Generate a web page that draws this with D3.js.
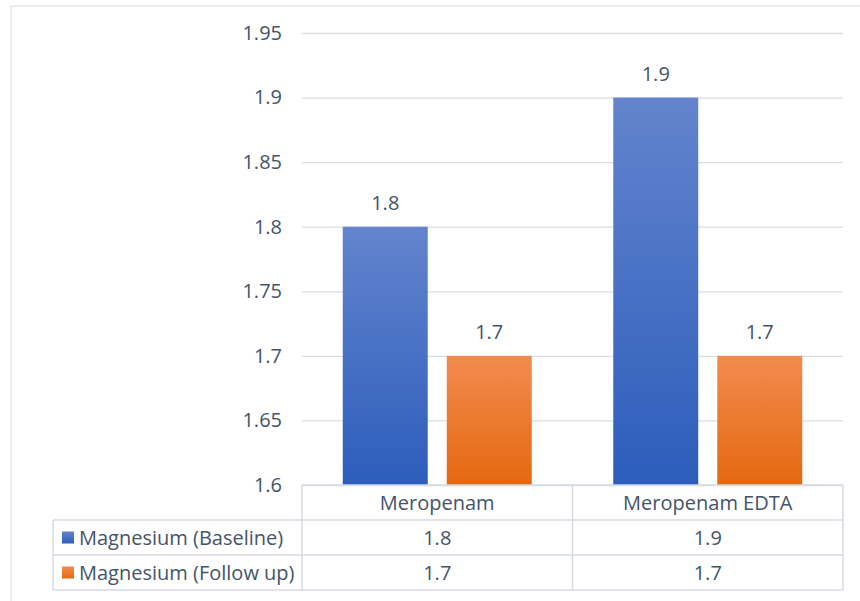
<!DOCTYPE html>
<html>
<head>
<meta charset="utf-8">
<script src="https://cdn.jsdelivr.net/npm/d3@7"></script>
<style>
  html, body { margin: 0; padding: 0; background: #fff; }
  svg { display: block; }
  text { font-family: "Open Sans", "Noto Sans", sans-serif; fill: #44546A; }
</style>
</head>
<body>
<svg id="chart" width="860" height="601"></svg>
<script>
// Data
const categories = ["Meropenam", "Meropenam EDTA"];
const seriesNames = ["Magnesium (Baseline)", "Magnesium (Follow up)"];
const baseline = [1.8, 1.9];
const followUp = [1.7, 1.7];
const yTicks = [1.6, 1.65, 1.7, 1.75, 1.8, 1.85, 1.9, 1.95];

const seriesValues = [baseline, followUp];
const gradients = [
  { id: "gradBlue", top: "#6384cd", bottom: "#2c5dbb" },
  { id: "gradOrange", top: "#f28b50", bottom: "#e5680f" }
];

const svg = d3.select("#chart");
const W = 860, H = 601;
const FS = "20px";

// Layout
const plot = { left: 302, right: 843, top: 33, bottom: 485 };
const tableLeft = 53;
const rowH = 35;
const gridColor = "#d9dde4";

// Chart frame
svg.append("rect")
  .attr("x", 11).attr("y", 6)
  .attr("width", W + 10).attr("height", H + 10)
  .attr("fill", "#fff")
  .attr("stroke", "#dde1e8").attr("stroke-width", 1.2);

// Gradients
const defs = svg.append("defs");
gradients.forEach(g => {
  const lg = defs.append("linearGradient")
    .attr("id", g.id).attr("x1", 0).attr("y1", 0).attr("x2", 0).attr("y2", 1);
  lg.append("stop").attr("offset", "0%").attr("stop-color", g.top);
  lg.append("stop").attr("offset", "100%").attr("stop-color", g.bottom);
});

// Scales
const y = d3.scaleLinear().domain([1.6, 1.95]).range([plot.bottom, plot.top]);
const x0 = d3.scaleBand().domain(categories).range([plot.left, plot.right]).paddingInner(0).paddingOuter(0);
const x1 = d3.scaleBand().domain(d3.range(seriesNames.length))
  .range([0, x0.bandwidth()]).paddingInner(0.183).paddingOuter(0.392);

// Gridlines and tick labels
const yAxis = d3.axisLeft(y).tickValues(yTicks).tickSize(-(plot.right - plot.left)).tickFormat(d3.format(""));
const gAxis = svg.append("g")
  .attr("transform", `translate(${plot.left},0)`)
  .call(yAxis);
gAxis.select(".domain").remove();
gAxis.selectAll(".tick line").attr("stroke", gridColor).attr("stroke-width", 1.3);
gAxis.selectAll(".tick text")
  .attr("x", -20)
  .style("font-size", FS)
  .style("fill", "#44546A");

// Bars
const groups = svg.append("g").selectAll("g")
  .data(categories)
  .join("g")
  .attr("transform", d => `translate(${x0(d)},0)`);

groups.selectAll("rect")
  .data((c, ci) => seriesValues.map((vals, si) => ({ si, v: vals[ci] })))
  .join("rect")
  .attr("x", d => x1(d.si))
  .attr("width", x1.bandwidth())
  .attr("y", d => y(d.v))
  .attr("height", d => y(1.6) - y(d.v))
  .attr("fill", d => `url(#${gradients[d.si].id})`);

// Value labels
groups.selectAll("text.val")
  .data((c, ci) => seriesValues.map((vals, si) => ({ si, v: vals[ci] })))
  .join("text")
  .attr("class", "val")
  .attr("x", d => x1(d.si) + x1.bandwidth() / 2)
  .attr("y", d => y(d.v) - 17)
  .attr("text-anchor", "middle")
  .style("font-size", FS)
  .text(d => d3.format("")(d.v));

// Data table
const table = svg.append("g");
const rowTops = [plot.bottom, plot.bottom + rowH, plot.bottom + 2 * rowH, plot.bottom + 3 * rowH];
const tStroke = "#d6dbe3";

// horizontal lines
table.append("line")
  .attr("x1", plot.left).attr("x2", plot.right)
  .attr("y1", rowTops[0]).attr("y2", rowTops[0])
  .attr("stroke", tStroke).attr("stroke-width", 1.5);
[1, 2, 3].forEach(i => {
  table.append("line")
    .attr("x1", tableLeft).attr("x2", plot.right)
    .attr("y1", rowTops[i]).attr("y2", rowTops[i])
    .attr("stroke", tStroke).attr("stroke-width", 1.5);
});
// vertical lines
table.append("line")
  .attr("x1", tableLeft).attr("x2", tableLeft)
  .attr("y1", rowTops[1]).attr("y2", rowTops[3])
  .attr("stroke", tStroke).attr("stroke-width", 1.5);
[plot.left, plot.left + x0.bandwidth(), plot.right].forEach(xv => {
  table.append("line")
    .attr("x1", xv).attr("x2", xv)
    .attr("y1", rowTops[0]).attr("y2", rowTops[3])
    .attr("stroke", tStroke).attr("stroke-width", 1.5);
});

// Category header row
table.selectAll("text.cat")
  .data(categories)
  .join("text")
  .attr("class", "cat")
  .attr("x", d => x0(d) + x0.bandwidth() / 2)
  .attr("y", rowTops[0] + rowH / 2)
  .attr("dy", "0.35em")
  .attr("text-anchor", "middle")
  .style("font-size", FS)
  .text(d => d);

// Series rows
seriesNames.forEach((name, si) => {
  const cy = rowTops[si + 1] + rowH / 2;
  table.append("rect")
    .attr("x", 62).attr("y", cy - 6)
    .attr("width", 12).attr("height", 12)
    .attr("fill", `url(#${gradients[si].id})`);
  table.append("text")
    .attr("x", 79).attr("y", cy)
    .attr("dy", "0.35em")
    .style("font-size", FS)
    .text(name);
  categories.forEach((c, ci) => {
    table.append("text")
      .attr("x", x0(c) + x0.bandwidth() / 2)
      .attr("y", cy)
      .attr("dy", "0.35em")
      .attr("text-anchor", "middle")
      .style("font-size", FS)
      .text(d3.format("")(seriesValues[si][ci]));
  });
});
</script>
</body>
</html>
